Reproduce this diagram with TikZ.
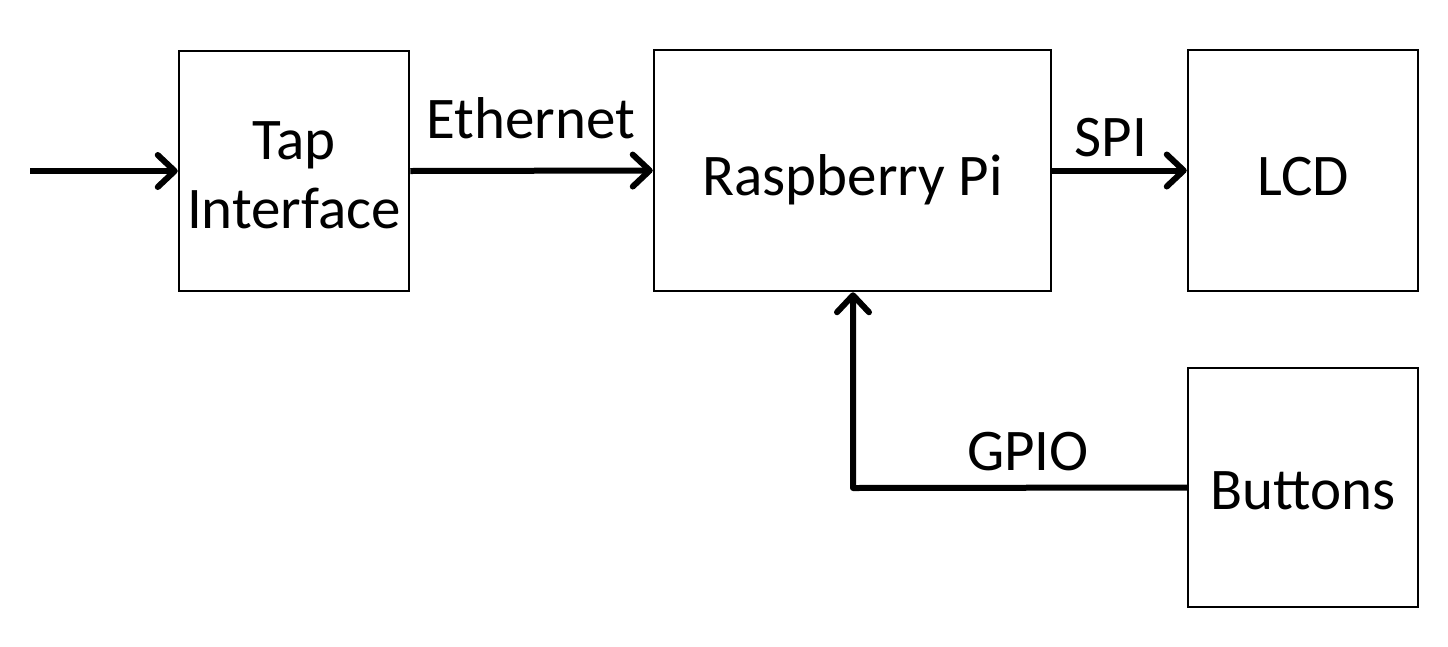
\documentclass[tikz,border=0pt]{standalone}
\usepackage{fontspec}
\setmainfont{Carlito}
\usetikzlibrary{arrows.meta}
\begin{document}
\begin{tikzpicture}[x=1pt,y=-1pt,
  blk/.style={draw,line width=2.5pt,inner sep=0pt,align=center,font=\fontsize{59}{69}\selectfont,text depth=0pt},
  conn/.style={line width=6pt,-{Straight Barb[length=17pt,width=32pt,round,line width=6pt]}},
  lbl/.style={font=\fontsize{59}{69}\selectfont,inner sep=0pt,anchor=base}]
\useasboundingbox (0,0) rectangle (1448,646);
\node[blk,minimum width=230pt,minimum height=240pt] (tap) at (294,171)
  {\raisebox{0pt}[45pt][0pt]{Tap}\\\raisebox{0pt}[0pt][0pt]{Interface}};
\node[blk,minimum width=397pt,minimum height=241pt,text height=49pt] (pi) at (852.5,170.5) {Raspberry Pi};
\node[blk,minimum width=230pt,minimum height=241pt,text height=50pt] (lcd) at (1303,170.5) {LCD};
\node[blk,minimum width=230pt,minimum height=239pt,text height=43pt] (btn) at (1303,487.5) {Buttons};
\coordinate (in) at (30,171);
\coordinate (bend) at (853,488);
\draw[conn] (in) -- (tap.west);
\draw[conn] (tap.east) -- (pi.west);
\draw[conn] (pi.east) -- (lcd.west);
\draw[conn,line join=round] (btn.west) -- (bend) -- (bend |- pi.south);
\node[lbl] (eth) at (531,138) {Ethernet};
\node[lbl] (spi) at (1111,156) {SPI};
\node[lbl] (gpio) at (1028,470) {GPIO};
\end{tikzpicture}
\end{document}
